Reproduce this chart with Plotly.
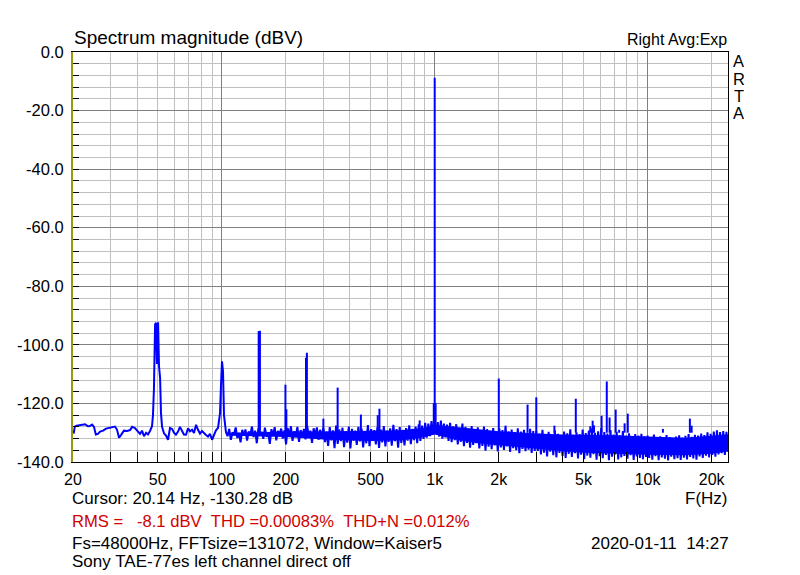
import numpy as np
import plotly.graph_objects as go

# ---------------- data ----------------
# smooth low-frequency part of the spectrum (Hz, dBV)
low_f = [20.14, 20.4, 20.8, 21.1, 21.6, 22.3, 22.8, 23.5, 24.0, 24.6, 25.1, 25.6, 26.2, 26.8,
         27.7, 28.6, 29.8, 30.8, 31.5, 32.2, 32.9, 33.6, 34.7, 35.9, 37.1, 37.9, 39.1, 40.4,
         41.3, 42.2, 43.1, 44.1, 45.0, 46.0, 47.0, 47.5, 48.0, 48.6, 49.1, 49.6, 50.2, 50.7,
         51.3, 51.8, 52.4, 53.5, 54.7, 55.9, 57.1, 58.4, 59.6, 60.9, 62.3, 63.6, 65.0, 66.4,
         67.9, 69.4, 70.9, 72.5, 74.0, 75.7, 77.3, 79.0, 80.7, 82.5, 84.3, 86.1, 88.0, 90.0,
         91.9, 93.9, 96.0, 97.0, 98.1, 99.1, 100.2, 101.3, 102.4]
low_db = [-130.3, -127.9, -127.6, -127.5, -127.4, -127.2, -127.1, -127.8, -127.7, -127.2,
          -128.0, -130.6, -130.4, -129.6, -129.3, -128.6, -128.3, -128.1, -127.9, -129.0,
          -131.7, -130.8, -129.3, -129.4, -129.1, -128.0, -128.4, -129.6, -130.4, -129.3,
          -131.2, -130.0, -130.6, -129.4, -127.8, -124.0, -115.0, -93.0, -92.5, -106.5,
          -92.3, -107.3, -111.3, -123.3, -128.0, -130.2, -131.0, -132.4, -128.4, -128.7,
          -130.0, -130.7, -129.6, -128.0, -129.2, -130.6, -130.7, -128.5, -129.5, -129.0,
          -130.1, -127.3, -129.0, -130.3, -129.4, -130.2, -130.8, -131.3, -130.4, -132.4,
          -130.6, -129.2, -128.3, -126.2, -123.3, -114.0, -105.6, -109.0, -124.0]

# noise floor (display columns, max/min alternating), per frequency band
noise_bands = [(104.6, 300.0), (300.0, 1000.0), (1000.0, 3000.0), (3000.0, 10000.0), (10000.0, 23860.0)]
noise_1 = [-129.8, -131.2, -128.7, -132.4, -129.9, -130.6, -128.2, -131.8, -130.1, -133.3,
           -129.0, -131.0, -128.9, -132.7, -129.6, -130.8, -127.9, -131.5, -129.3, -133.6,
           -128.5, -130.9, -129.7, -132.1, -128.3, -131.4, -129.9, -133.8, -128.8, -131.1,
           -128.1, -132.6, -129.4, -130.7, -128.6, -132.0, -129.2, -134.0, -128.4, -131.3,
           -127.8, -132.8, -129.5, -131.0, -128.0, -133.1, -129.1, -131.7, -128.7, -132.3,
           -127.6, -131.2, -129.3, -133.5, -128.5, -130.9, -128.2, -132.4, -129.0, -131.6]
noise_2 = [-128.4, -133.2, -129.6, -134.5, -128.1, -132.6, -129.2, -135.3, -127.6, -133.8,
           -128.9, -132.9, -128.3, -134.9, -129.5, -133.4, -127.9, -135.4, -128.7, -132.7,
           -129.3, -134.2, -128.0, -133.0, -128.6, -135.0, -129.8, -133.6, -127.4, -134.6,
           -128.8, -132.8, -129.1, -134.0, -128.2, -135.2, -128.9, -133.3, -127.7, -134.7,
           -129.4, -133.1, -128.5, -134.4, -127.3, -132.9, -128.8, -135.1, -128.1, -133.5,
           -129.0, -134.3, -128.4, -132.7, -127.5, -133.9, -128.7, -132.5, -127.9, -133.6,
           -127.1, -132.8, -127.6, -132.1, -126.6, -131.7, -126.9, -131.2, -126.0, -130.6]
noise_3 = [-125.8, -130.4, -126.4, -131.3, -125.9, -132.0, -126.9, -131.6, -127.2, -132.8,
           -126.6, -133.2, -127.8, -132.5, -127.1, -134.0, -128.3, -133.1, -126.9, -134.6,
           -128.0, -133.5, -128.6, -135.1, -127.7, -134.2, -128.9, -133.6, -128.2, -135.4,
           -129.3, -134.5, -127.9, -136.1, -128.8, -134.8, -129.4, -135.6, -128.4, -134.3,
           -129.7, -136.4, -128.6, -135.0, -129.1, -135.9, -127.6, -134.7, -129.5, -136.6,
           -128.9, -135.3, -129.8, -136.0, -128.5, -137.0, -129.6, -135.5, -129.0, -136.3,
           -130.0, -135.8, -128.7, -136.9, -129.4, -136.2]
noise_4 = [-129.4, -136.2, -130.3, -137.4, -129.0, -136.8, -130.6, -138.1, -129.7, -136.5,
           -130.9, -137.7, -129.2, -138.4, -130.4, -136.9, -131.0, -137.9, -129.6, -138.6,
           -130.2, -137.2, -128.8, -138.3, -130.7, -137.0, -129.9, -138.8, -130.5, -137.5,
           -128.9, -139.0, -130.1, -137.8, -129.3, -138.5, -128.6, -137.3, -130.0, -139.2,
           -129.5, -138.0, -128.4, -138.7, -129.8, -137.6, -130.3, -139.4, -129.1, -138.2,
           -130.6, -137.4, -129.7, -139.1, -130.9, -138.4, -129.4, -137.9, -131.1, -138.9,
           -130.2, -137.7, -131.3, -139.3, -130.5, -138.1, -131.0, -138.6, -130.4, -139.0,
           -131.2, -138.3]
noise_5 = [-131.0, -138.6, -131.6, -139.2, -130.6, -138.0, -131.8, -139.4, -131.2, -138.4,
           -131.9, -138.9, -130.8, -139.5, -131.5, -138.2, -132.0, -139.0, -131.3, -138.7,
           -130.9, -139.3, -131.7, -138.5, -131.1, -139.1, -130.5, -138.3, -131.4, -138.8,
           -130.7, -139.2, -131.0, -138.1, -130.3, -138.6, -130.8, -137.8, -129.9, -138.4,
           -130.4, -137.6, -129.6, -138.2, -129.2, -137.4, -129.8, -137.0, -129.4, -137.6,
           -129.7, -136.5]
noise_vals = [noise_1, noise_2, noise_3, noise_4, noise_5]

# solid core of the noise band (Hz, upper dBV, lower dBV)
band_f = [110, 150, 200, 300, 400, 500, 700, 900, 1000, 1100, 1300, 1600, 2000, 2500, 3000,
          4000, 5000, 7000, 10000, 15000, 20000, 23860]
band_hi = [-130.0, -129.8, -129.6, -129.6, -129.5, -129.4, -129.2, -128.3, -127.4, -127.6,
           -128.2, -128.9, -129.5, -129.9, -130.3, -130.6, -130.7, -130.9, -131.3, -131.7,
           -131.0, -130.5]
band_lo = [-131.0, -131.2, -131.5, -132.3, -132.6, -132.8, -132.6, -131.5, -130.6, -131.3,
           -132.6, -133.6, -134.3, -135.0, -135.6, -136.3, -136.8, -137.2, -137.5, -137.7,
           -137.2, -136.4]

# harmonic / spurious peaks (Hz, peak dBV)
spur_f = [149, 151, 199, 201, 248.5, 251, 300, 350, 450, 540, 550, 850, 990, 1000, 1010,
          2000, 2730, 3000, 3650, 4600, 5380, 5520, 5600, 6080, 6430, 6630, 7080, 7350,
          7800, 8070, 11800, 15800, 16100]
spur_top = [-95.3, -95.2, -113.6, -122.0, -104.4, -102.7, -125.2, -114.6, -123.8, -124.0,
            -121.8, -125.8, -119.9, -8.8, -119.9, -111.5, -120.4, -117.9, -127.6, -118.4,
            -127.8, -125.9, -127.5, -124.2, -112.5, -124.8, -122.1, -129.0, -126.8, -123.5,
            -128.7, -125.2, -127.6]
spur_base = -130.0

# axes
x_grid = [30, 40, 50, 60, 70, 80, 90, 100, 200, 300, 400, 500, 600, 700, 800, 900,
          1000, 2000, 3000, 4000, 5000, 6000, 7000, 8000, 9000, 10000, 20000]
x_labels = {20: "20", 50: "50", 100: "100", 200: "200", 500: "500", 1000: "1k",
            2000: "2k", 5000: "5k", 10000: "10k", 20000: "20k"}
x_major = [100, 1000, 10000]
y_min, y_max = -140, 0

# ---------------- build traces ----------------
spec_f = list(low_f)
spec_db = list(low_db)
for i, ((f0, f1), vals) in enumerate(zip(noise_bands, noise_vals)):
    last = i == len(noise_bands) - 1
    fs = np.geomspace(f0, f1, len(vals), endpoint=last)
    spec_f += list(fs)
    spec_db += list(vals)

sx, sy = [], []
for f, t in zip(spur_f, spur_top):
    sx += [f, f, None]
    sy += [spur_base, t, None]

BLUE = "#0000FF"
fig = go.Figure()
fig.add_trace(go.Scatter(x=band_f, y=band_lo, mode="lines", line=dict(width=0, color=BLUE),
                         hoverinfo="skip"))
fig.add_trace(go.Scatter(x=band_f, y=band_hi, mode="lines", line=dict(width=0, color=BLUE),
                         fill="tonexty", fillcolor=BLUE, hoverinfo="skip"))
fig.add_trace(go.Scatter(x=spec_f, y=spec_db, mode="lines",
                         line=dict(color=BLUE, width=2), hoverinfo="skip"))
fig.add_trace(go.Scatter(x=sx, y=sy, mode="lines",
                         line=dict(color=BLUE, width=2), hoverinfo="skip"))
# helper trace to activate the overlay axes carrying the darker grid
fig.add_trace(go.Scatter(x=[1000], y=[-70], xaxis="x2", yaxis="y2", mode="markers",
                         marker=dict(opacity=0), hoverinfo="skip"))

xr = [np.log10(20), np.log10(23860)]
all_x = [20] + x_grid
fig.update_layout(
    width=800, height=575,
    margin=dict(l=73, r=72, t=52, b=113),
    paper_bgcolor="white", plot_bgcolor="white",
    showlegend=False, hovermode=False,
    font=dict(family="Liberation Sans, Arial, sans-serif", color="black", size=16),
    xaxis=dict(type="log", range=xr, tickmode="array", tickvals=all_x,
               ticktext=[x_labels.get(v, "") for v in all_x],
               showgrid=True, gridcolor="#C0C0C0", gridwidth=1,
               ticks="inside", ticklen=10, tickcolor="black", tickwidth=1,
               showline=True, linecolor="black", linewidth=1, mirror=True,
               zeroline=False, tickfont=dict(size=16), ticklabelstandoff=3),
    xaxis2=dict(type="log", range=xr, overlaying="x", anchor="y", tickmode="array",
                tickvals=x_major, showgrid=True, gridcolor="#808080", gridwidth=1,
                showticklabels=False, ticks="", showline=False, zeroline=False),
    yaxis=dict(range=[y_min, y_max], tickmode="array",
               tickvals=list(range(y_min, y_max + 1, 4)),
               ticktext=[(f"{v:.1f}" if v % 20 == 0 else "") for v in range(y_min, y_max + 1, 4)],
               showgrid=True, gridcolor="#C0C0C0", gridwidth=1,
               ticks="inside", ticklen=6, tickcolor="black", tickwidth=1,
               showline=True, linecolor="#9A9A10", linewidth=2,
               zeroline=False, tickfont=dict(size=16.5), ticklabelstandoff=4),
    yaxis2=dict(range=[y_min, y_max], overlaying="y", anchor="x", side="right",
                tickmode="array", tickvals=list(range(-120, 0, 20)),
                showgrid=True, gridcolor="#808080", gridwidth=1,
                showticklabels=False, ticks="", showline=True, linecolor="black",
                linewidth=1, zeroline=False),
)

def py(p):
    return (462.3 - p) / 410.0

def px(p):
    return (p - 73) / 655.0

ann = []
def add(text, x, y, xa, size, color="black", h=None):
    d = dict(text=text, x=x, y=y, xref="paper", yref="paper", xanchor=xa,
             yanchor="middle", showarrow=False, font=dict(size=size, color=color))
    if h is not None:
        d.update(height=h, borderpad=0)
    ann.append(d)

add("Spectrum magnitude (dBV)", px(72), py(38), "left", 19)
add("Right Avg:Exp", px(729), py(40), "right", 16)
for ch, yy in zip("ARTA", [61, 79, 96, 113]):
    add(ch, px(738.5), py(yy), "center", 16.5, h=15)
add("Cursor: 20.14 Hz, -130.28 dB", px(70), py(499), "left", 17)
add("F(Hz)", px(729), py(499), "right", 17)
add("RMS =\u00a0\u00a0\u00a0-8.1 dBV\u00a0\u00a0THD =0.00083%\u00a0\u00a0THD+N =0.012%",
    px(70), py(522), "left", 16.6, "#D00000")
add("Fs=48000Hz, FFTsize=131072, Window=Kaiser5", px(70), py(544), "left", 17)
add("2020-01-11\u00a0\u00a014:27", px(731), py(544), "right", 17)
add("Sony TAE-77es left channel direct off", px(70), py(562), "left", 17)
fig.update_layout(annotations=ann)

fig.write_html("out.html")
